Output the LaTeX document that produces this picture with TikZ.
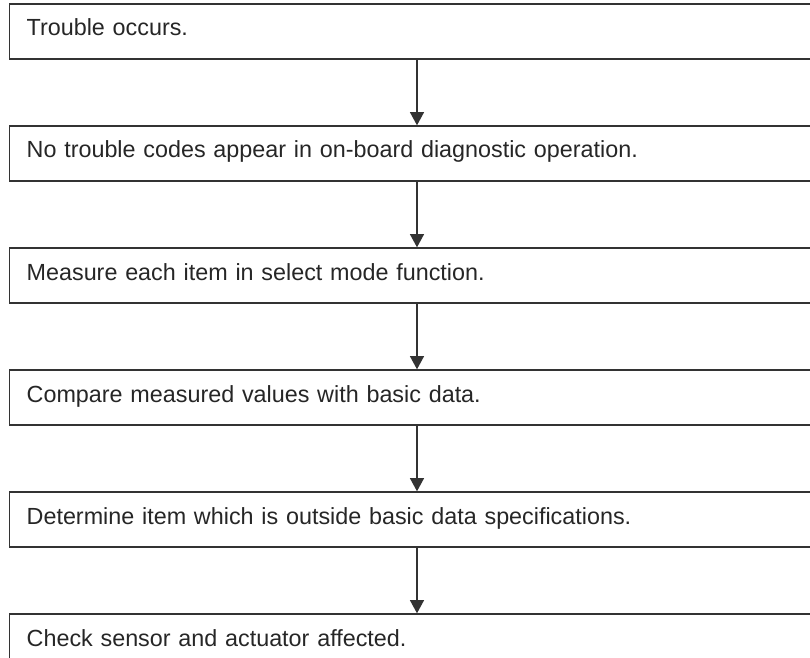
\documentclass[tikz,border=0pt]{standalone}
\usepackage{fontspec}
\setmainfont{Liberation Sans}
\usetikzlibrary{positioning,arrows.meta}

\begin{document}
\begin{tikzpicture}[
    x=0.025cm, y=0.025cm,
    stepbox/.style={draw=black!80, line width=1.3pt*0.75, anchor=west, minimum width=25cm,
        minimum height=1.375cm, inner xsep=0.425cm, text height=0.425cm, text depth=0.2cm,
        text=black!85, font=\fontsize{16.6pt}{19pt}\selectfont, align=left,
        text width=25cm-0.85cm},
    flow/.style={-{Triangle[width=0.35cm,length=0.33cm]}, draw=black!80, line width=1.3pt*0.75},
    node distance=1.64cm
]
\clip (0,0) rectangle (810,658);
% ---------------- boxes ----------------
\node[stepbox] (occur) at (9,626.5) {Trouble occurs.};
\node[stepbox, below=of occur]   (nocode)  {No trouble codes appear in on-board diagnostic operation.};
\node[stepbox, below=of nocode]  (measure) {Measure each item in select mode function.};
\node[stepbox, below=of measure] (compare) {Compare measured values with basic data.};
\node[stepbox, below=of compare] (outside) {Determine item which is outside basic data specifications.};
\node[stepbox, below=of outside] (check)   {Check sensor and actuator affected.};
% ---------------- arrows ----------------
\coordinate (ax) at (417,0);
\draw[flow] (occur.south -| ax)   -- (nocode.north -| ax);
\draw[flow] (nocode.south -| ax)  -- (measure.north -| ax);
\draw[flow] (measure.south -| ax) -- (compare.north -| ax);
\draw[flow] (compare.south -| ax) -- (outside.north -| ax);
\draw[flow] (outside.south -| ax) -- (check.north -| ax);
\end{tikzpicture}
\end{document}
